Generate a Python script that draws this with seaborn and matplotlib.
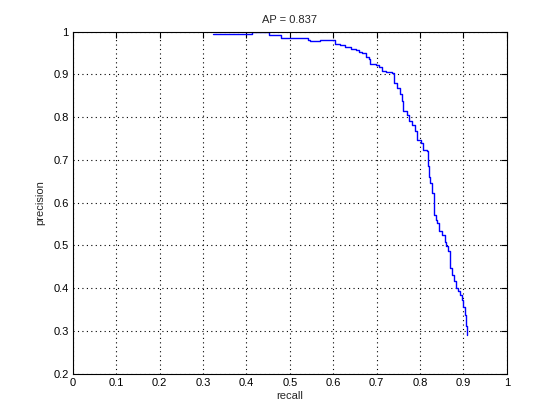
import matplotlib
matplotlib.use("Agg")
import matplotlib.pyplot as plt
import seaborn as sns
import pandas as pd

recall = [0.322, 0.413, 0.413, 0.453, 0.453, 0.480, 0.480, 0.539, 0.541, 0.547,
          0.570, 0.570, 0.598, 0.604, 0.615, 0.627, 0.640, 0.652, 0.660, 0.667,
          0.675, 0.683, 0.684, 0.698, 0.706, 0.713, 0.721, 0.736, 0.739, 0.748,
          0.753, 0.759, 0.761, 0.769, 0.775, 0.781, 0.789, 0.794, 0.802, 0.808,
          0.815, 0.818, 0.821, 0.824, 0.828, 0.832, 0.836, 0.840, 0.844, 0.851,
          0.857, 0.859, 0.865, 0.868, 0.870, 0.874, 0.878, 0.884, 0.888, 0.893,
          0.897, 0.899, 0.903, 0.906, 0.909]
precision = [0.995, 0.995, 0.998, 0.998, 0.992, 0.992, 0.985, 0.985, 0.981, 0.977,
             0.977, 0.979, 0.979, 0.971, 0.968, 0.964, 0.958, 0.956, 0.951, 0.949,
             0.941, 0.936, 0.923, 0.922, 0.917, 0.907, 0.905, 0.903, 0.880, 0.868,
             0.853, 0.837, 0.814, 0.806, 0.790, 0.782, 0.767, 0.747, 0.740, 0.724,
             0.720, 0.685, 0.660, 0.646, 0.623, 0.572, 0.560, 0.552, 0.533, 0.525,
             0.509, 0.498, 0.486, 0.467, 0.447, 0.432, 0.416, 0.400, 0.393, 0.385,
             0.373, 0.357, 0.338, 0.311, 0.291]
x_ticks = [0, 0.1, 0.2, 0.3, 0.4, 0.5, 0.6, 0.7, 0.8, 0.9, 1]
x_tick_labels = ["0", "0.1", "0.2", "0.3", "0.4", "0.5", "0.6", "0.7", "0.8", "0.9", "1"]
y_ticks = [0.2, 0.3, 0.4, 0.5, 0.6, 0.7, 0.8, 0.9, 1]
y_tick_labels = ["0.2", "0.3", "0.4", "0.5", "0.6", "0.7", "0.8", "0.9", "1"]
title = "AP = 0.837"

sns.set_style("white")
plt.rcParams["font.family"] = ["Liberation Sans", "DejaVu Sans"]

fig = plt.figure(figsize=(5.6, 4.2), dpi=100)
ax = fig.add_axes([0.13, 0.11, 0.775, 0.815])

df = pd.DataFrame({"recall": recall, "precision": precision})
sns.lineplot(data=df, x="recall", y="precision", sort=False, estimator=None,
             color=(0, 0, 1), linewidth=1.0, drawstyle="steps-post", ax=ax)

ax.set_xlim(0, 1)
ax.set_ylim(0.2, 1)
ax.set_xticks(x_ticks)
ax.set_xticklabels(x_tick_labels)
ax.set_yticks(y_ticks)
ax.set_yticklabels(y_tick_labels)
ax.grid(True, color="black", linestyle=(0, (1, 3)), linewidth=0.8)
ax.tick_params(direction="in", length=4, width=0.8, top=True, right=True,
               labelsize=8, colors="black", pad=3)
for s in ax.spines.values():
    s.set_visible(True)
    s.set_color("black")
    s.set_linewidth(0.8)
ax.set_xlabel("recall", fontsize=8, labelpad=2)
ax.set_ylabel("precision", fontsize=8, labelpad=6)
ax.set_title(title, fontsize=8, pad=6)

fig.savefig("out.png", dpi=100, facecolor="white")
